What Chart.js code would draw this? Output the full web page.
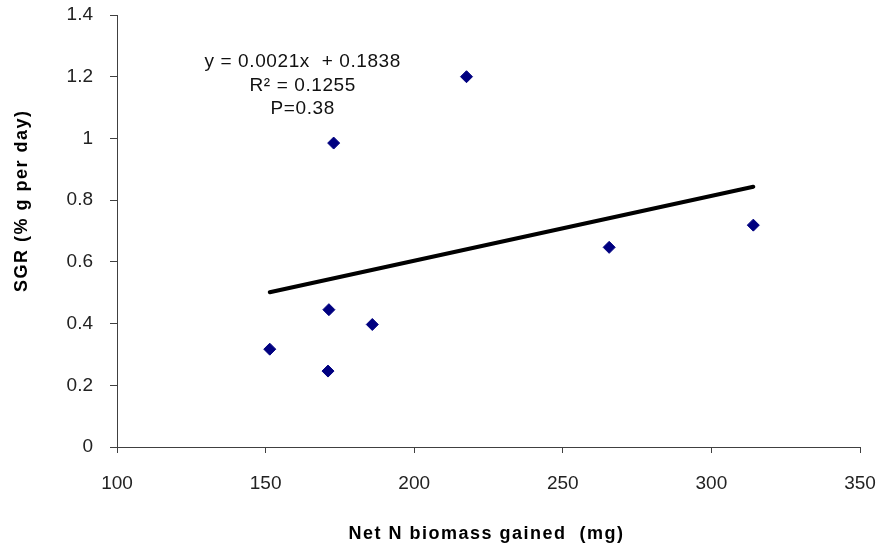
<!DOCTYPE html>
<html>
<head>
<meta charset="utf-8">
<title>SGR vs Net N biomass gained</title>
<script src="https://cdn.jsdelivr.net/npm/chart.js@4.4.1/dist/chart.umd.min.js"></script>
<style>
  body { margin: 0; background: #fff; }
  canvas { display: block; }
</style>
</head>
<body>
<canvas id="myChart" width="880" height="546"></canvas>
<script>
// data
const netN = [151.4, 171.0, 171.3, 172.9, 185.9, 217.6, 265.6, 314.1];
const sgr = [0.317, 0.246, 0.445, 0.985, 0.397, 1.20, 0.647, 0.719];

// trendline from the equation printed on the chart
const slope = 0.0021;
const intercept = 0.1838;
const statsText = ['y = 0.0021x  + 0.1838', 'R\u00b2 = 0.1255', 'P=0.38'];
const statsPos = [162.5, 1.249]; // in data units

const xTicks = [100, 150, 200, 250, 300, 350];
const yTicks = [0, 0.2, 0.4, 0.6, 0.8, 1, 1.2, 1.4];
const xTitle = 'Net N biomass gained  (mg)';
const yTitle = 'SGR (% g per day)';

const points = netN.map((x, i) => ({ x: x, y: sgr[i] }));
const xMin = Math.min(...netN);
const xMax = Math.max(...netN);
const trend = [
  { x: xMin, y: slope * xMin + intercept },
  { x: xMax, y: slope * xMax + intercept }
];

const axisColor = '#404040';
const fontFam = 'Arial, "Liberation Sans", sans-serif';
const tickFont = { family: fontFam, size: 19 };

// regression text and the axis titles (the original text runs a bit wide)
const labelsPlugin = {
  id: 'labelsPlugin',
  afterDatasetsDraw(chart) {
    const ctx = chart.ctx;
    const area = chart.chartArea;
    const px = chart.scales.x.getPixelForValue(statsPos[0]);
    const py = chart.scales.y.getPixelForValue(statsPos[1]);
    ctx.save();
    ctx.textAlign = 'center';
    ctx.textBaseline = 'middle';

    ctx.font = '19px ' + fontFam;
    ctx.fillStyle = '#111';
    ctx.letterSpacing = '0.6px';
    statsText.forEach((t, i) => {
      ctx.fillText(t, px, py + i * 23.7);
    });

    ctx.font = 'bold 18px ' + fontFam;
    ctx.fillStyle = '#000';
    ctx.letterSpacing = '1.5px';
    ctx.fillText(xTitle, (area.left + area.right) / 2 - 2, chart.height - 12);

    ctx.translate(22, area.top + (area.bottom - area.top) * 0.43);
    ctx.rotate(-Math.PI / 2);
    ctx.fillText(yTitle, 0, 0);
    ctx.restore();
  }
};

const ctx = document.getElementById('myChart');

new Chart(ctx, {
  type: 'scatter',
  data: {
    datasets: [{
      label: 'SGR',
      data: points,
      pointStyle: 'rectRot',
      pointRadius: 6,
      pointHoverRadius: 6,
      backgroundColor: '#000080',
      borderColor: '#000080',
      borderWidth: 1
    }, {
      label: 'Linear',
      type: 'line',
      data: trend,
      borderColor: '#000',
      borderWidth: 4,
      borderCapStyle: 'round',
      pointRadius: 0,
      fill: false
    }]
  },
  options: {
    responsive: false,
    animation: false,
    layout: { padding: { top: 15, right: 20, left: 0, bottom: 0 } },
    plugins: {
      legend: { display: false },
      tooltip: { enabled: false }
    },
    scales: {
      x: {
        type: 'linear',
        min: 100,
        max: 350,
        afterBuildTicks(scale) { scale.ticks = xTicks.map(v => ({ value: v })); },
        afterFit(scale) {
          scale.height = 99;
          scale.paddingLeft = 0;
          scale.paddingRight = 0;
        },
        grid: { drawOnChartArea: false, tickLength: 6, color: axisColor },
        border: { color: axisColor },
        ticks: { font: tickFont, color: '#222', padding: 19, maxRotation: 0 }
      },
      y: {
        min: 0,
        max: 1.4,
        afterBuildTicks(scale) { scale.ticks = yTicks.map(v => ({ value: v })); },
        afterFit(scale) {
          scale.width = 117;
          scale.paddingTop = 0;
          scale.paddingBottom = 0;
        },
        grid: { drawOnChartArea: false, tickLength: 7, color: axisColor },
        border: { color: axisColor },
        ticks: {
          font: tickFont,
          color: '#222',
          padding: 17,
          callback: v => String(v)
        }
      }
    }
  },
  plugins: [labelsPlugin]
});
</script>
</body>
</html>
